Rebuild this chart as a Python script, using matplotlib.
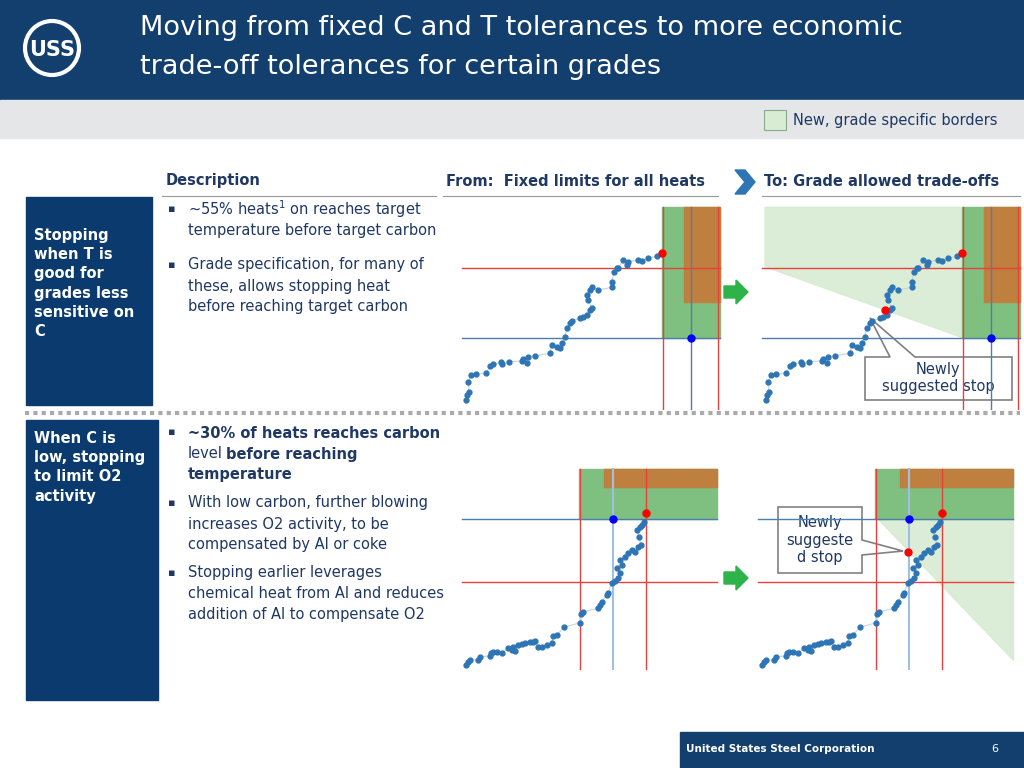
import matplotlib
matplotlib.use('Agg')
import numpy as np
import matplotlib.pyplot as plt
from matplotlib.patches import Rectangle, Polygon, Circle, FancyArrow

# curve data, panel units (0..810 wide, 0..630 tall, y downwards)
top_x = [33, 37, 42, 40, 47, 62, 93, 105, 115, 138, 142, 162, 200, 205, 215, 220, 240, 285, 290, 305, 315,
         320, 330, 335, 345, 352, 375, 385, 395, 405, 410, 400, 395, 405, 410, 430, 470, 470, 478, 485, 490,
         505, 515, 520, 550, 560, 580, 605]
top_y = [600, 585, 575, 545, 525, 523, 520, 498, 492, 487, 493, 485, 483, 476, 490, 470, 467, 460, 435, 440,
         445, 430, 410, 385, 370, 362, 355, 350, 345, 330, 325, 300, 285, 270, 262, 270, 262, 245, 215, 205,
         203, 180, 195, 185, 180, 182, 175, 168]
top_stop = (620, 160)
bot_x = [33, 40, 45, 68, 75, 105, 108, 115, 125, 140, 160, 170, 175, 180, 190, 200, 210, 225, 235, 240, 250,
         260, 275, 290, 295, 305, 328, 375, 378, 385, 430, 435, 440, 455, 460, 470, 480, 490, 495, 485, 500,
         495, 510, 520, 530, 540, 550, 557, 552, 545, 555, 560, 568]
bot_y = [615, 605, 600, 600, 590, 588, 580, 577, 575, 578, 565, 570, 560, 572, 555, 552, 548, 545, 545, 543,
         560, 560, 555, 548, 528, 525, 502, 488, 462, 455, 445, 435, 425, 405, 400, 368, 362, 355, 340, 325,
         315, 300, 290, 280, 270, 275, 262, 255, 230, 210, 200, 195, 185]
bot_stop = (573, 160)

NAVY = '#0b3b6e'
TXT = '#1f3864'
PT = '#2e75b6'
FS = 10.5

fig = plt.figure(figsize=(10.24, 7.68), dpi=100)
ax = fig.add_axes([0, 0, 1, 1])
ax.set_xlim(0, 1024)
ax.set_ylim(768, 0)
ax.axis('off')

# header
ax.add_patch(Rectangle((0, 0), 1024, 100, color='#123f6e', zorder=0))
ax.add_patch(Rectangle((0, 100), 1024, 38, color='#e4e6e8', zorder=0))
ax.add_patch(Circle((52, 48), 27, fc='none', ec='white', lw=3))
ax.text(52, 50, 'USS', color='white', fontsize=15, fontweight='bold', ha='center', va='center')
ax.text(140, 28, 'Moving from fixed C and T tolerances to more economic', color='white', fontsize=19.5, va='center')
ax.text(140, 67, 'trade-off tolerances for certain grades', color='white', fontsize=19.5, va='center')
ax.add_patch(Rectangle((764, 110), 22, 20, fc='#d7ecd3', ec='#8aa88a', lw=0.8))
ax.text(793, 121, 'New, grade specific borders', color=TXT, fontsize=FS, va='center')

# column headers
for x, s in [(166, 'Description'), (446, 'From:  Fixed limits for all heats'), (764, 'To: Grade allowed trade-offs')]:
    ax.text(x, 181, s, color=TXT, fontsize=FS, fontweight='bold', va='center')
for x0, x1 in [(162, 436), (443, 718), (762, 1020)]:
    ax.plot([x0, x1], [196, 196], color='#999999', lw=0.8)
ax.add_patch(Polygon([[735, 170], [745, 170], [755, 182], [745, 194], [735, 194], [745, 182]], color='#2e75b6'))

# left boxes
ax.add_patch(Rectangle((26, 197), 126, 208, color=NAVY))
ax.add_patch(Rectangle((26, 420), 132, 280, color=NAVY))
ax.text(34, 228, 'Stopping\nwhen T is\ngood for\ngrades less\nsensitive on\nC', color='white', fontsize=FS,
        fontweight='bold', va='top', linespacing=1.35)
ax.text(34, 431, 'When C is\nlow, stopping\nto limit O2\nactivity', color='white', fontsize=FS,
        fontweight='bold', va='top', linespacing=1.35)
ax.plot([25, 1020], [413, 413], color='#aaaaaa', lw=3, ls=(0, (1, 1)))

# description bullets
def bullet(y, lines, bold=False):
    ax.text(168, y, '\u25aa', color=TXT, fontsize=8, va='center')
    for i, s in enumerate(lines):
        ax.text(188, y + i * 21, s, color=TXT, fontsize=FS, va='center',
                fontweight='bold' if bold else 'normal')

bullet(209, ['~55% heats$^1$ on reaches target', 'temperature before target carbon'])
bullet(265, ['Grade specification, for many of', 'these, allows stopping heat', 'before reaching target carbon'])
ax.text(168, 432, '\u25aa', color=TXT, fontsize=8, va='center')
ax.text(188, 433, '~30% of heats reaches carbon', color=TXT, fontsize=FS, fontweight='bold', va='center')
ax.text(188, 454, 'level', color=TXT, fontsize=FS, va='center')
ax.text(226, 454, 'before reaching', color=TXT, fontsize=FS, fontweight='bold', va='center')
ax.text(188, 475, 'temperature', color=TXT, fontsize=FS, fontweight='bold', va='center')
bullet(503, ['With low carbon, further blowing', 'increases O2 activity, to be', 'compensated by Al or coke'])
bullet(573, ['Stopping earlier leverages', 'chemical heat from Al and reduces', 'addition of Al to compensate O2'])

# green arrows
for y in (292, 578):
    ax.add_patch(FancyArrow(724, y, 12, 0, width=12, head_width=24, head_length=12, color='#2db34a'))


def panel(px, py, xs, ys, stop, top, new=None):
    a = fig.add_axes([px / 1024, 1 - (py + 210) / 768, 270 / 1024, 210 / 768])
    a.set_xlim(0, 810)
    a.set_ylim(630, 0)
    a.axis('off')
    if top:
        a.add_patch(Rectangle((622, 22), 173, 391, color='#7fbf7f', zorder=1))
        a.add_patch(Rectangle((687, 22), 108, 283, color='#bf7f3f', zorder=1))
        a.plot([22, 795], [203, 203], color='#e8403a', lw=1, zorder=2)
        a.plot([22, 795], [413, 413], color='#4a7fb0', lw=1, zorder=2)
        for x in (625, 790):
            a.plot([x, x], [22, 630], color='#e8403a', lw=1, zorder=2)
        a.plot([707, 707], [22, 630], color='#4a7fb0', lw=1, zorder=2)
        a.plot([707], [413], 'o', color='blue', ms=5, zorder=4)
    else:
        a.add_patch(Rectangle((372, 28), 415, 150, color='#7fbf7f', zorder=1))
        a.add_patch(Rectangle((448, 28), 339, 54, color='#bf7f3f', zorder=1))
        a.plot([22, 787], [178, 178], color='#4a7fb0', lw=1, zorder=2)
        a.plot([22, 787], [367, 367], color='#e8403a', lw=1, zorder=2)
        for x in (375, 572):
            a.plot([x, x], [28, 630], color='#e8403a', lw=1, zorder=2)
        a.plot([473, 473], [28, 630], color='#9fc0e0', lw=1.5, zorder=2)
        a.plot([473], [178], 'o', color='blue', ms=5, zorder=4)
    if new is not None:
        a.add_patch(Polygon(new[0], color='#d7ecd3', alpha=0.9, zorder=0.5))
        a.plot([new[1][0]], [new[1][1]], 'o', color='red', ms=5, zorder=4)
    a.plot(xs, ys, color='#c8d4e0', lw=0.8, zorder=3)
    a.plot(xs, ys, 'o', color=PT, ms=3.5, zorder=3)
    a.plot([stop[0]], [stop[1]], 'o', color='red', ms=5, zorder=4)


panel(455, 200, top_x, top_y, top_stop, True)
panel(755, 200, top_x, top_y, top_stop, True, ([[30, 22], [622, 22], [622, 413], [30, 200]], (390, 330)))
panel(455, 460, bot_x, bot_y, bot_stop, False)
panel(751, 460, bot_x, bot_y, bot_stop, False, ([[380, 178], [787, 178], [787, 600]], (470, 275)))

# callouts
ax.add_patch(Polygon([[865, 357], [890, 357], [870, 318], [915, 357], [1012, 357], [1012, 400], [865, 400]],
                     fc='white', ec='#808080', lw=1.2, zorder=5))
ax.text(938, 378, 'Newly\nsuggested stop', color=TXT, fontsize=FS, ha='center', va='center', zorder=6)
ax.add_patch(Polygon([[778, 507], [862, 507], [862, 540], [903, 551], [862, 555], [862, 573], [778, 573]],
                     fc='white', ec='#808080', lw=1.2, zorder=5))
ax.text(820, 540, 'Newly\nsuggeste\nd stop', color=TXT, fontsize=FS, ha='center', va='center', zorder=6)

# footer
ax.add_patch(Rectangle((680, 732), 344, 36, color='#123f6e'))
ax.text(780, 749, 'United States Steel Corporation', color='white', fontsize=7.5, fontweight='bold', ha='center', va='center')
ax.text(995, 749, '6', color='white', fontsize=8, ha='center', va='center')

fig.savefig('out.png', dpi=100)
